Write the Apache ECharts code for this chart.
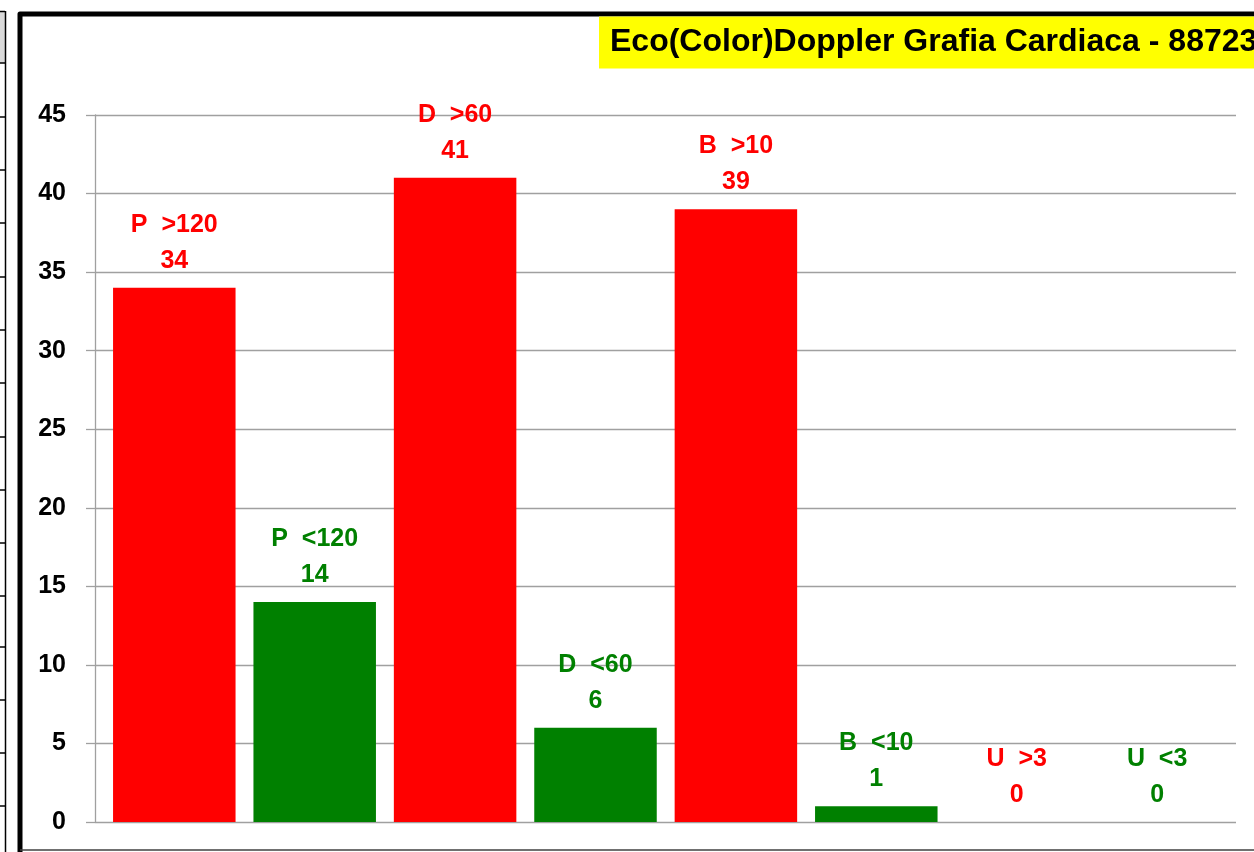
<!DOCTYPE html>
<html>
<head>
<meta charset="utf-8">
<style>
  html, body { margin: 0; padding: 0; background: #ffffff; }
  #chart { width: 1254px; height: 852px; }
</style>
<script src="https://cdn.jsdelivr.net/npm/echarts@6/dist/echarts.min.js"></script>
</head>
<body>
<div id="chart"></div>
<script>
// ---- data ----
const categories = ['P  >120', 'P  <120', 'D  >60', 'D  <60', 'B  >10', 'B  <10', 'U  >3', 'U  <3'];
const values = [34, 14, 41, 6, 39, 1, 0, 0];
const yTicks = [0, 5, 10, 15, 20, 25, 30, 35, 40, 45];
const titleText = 'Eco(Color)Doppler Grafia Cardiaca - 88723';

// ---- style ----
const RED = '#ff0000';
const GREEN = '#008000';
const FONT = '"Liberation Sans", Arial, sans-serif';
const colorFor = (name) => (name.indexOf('>') >= 0 ? RED : GREEN);

const yMin = yTicks[0];
const yMax = yTicks[yTicks.length - 1];
const yStep = yTicks[1] - yTicks[0];

const chart = echarts.init(document.getElementById('chart'), null, { renderer: 'canvas' });

// spreadsheet row borders at the far left edge (decoration)
const rowLines = [];
[63, 117, 170, 223, 277, 330, 383, 437, 490, 543, 596, 647, 700, 753, 806].forEach(function (y) {
  rowLines.push({
    type: 'line', silent: true,
    shape: { x1: 0, y1: y, x2: 5, y2: y },
    style: { stroke: '#000', lineWidth: 1.5 }
  });
});

const option = {
  backgroundColor: '#ffffff',
  animation: false,
  title: {
    text: titleText,
    left: 599,
    top: 17,
    backgroundColor: '#ffff00',
    padding: [10, 40, 10, 11],
    textStyle: {
      fontFamily: FONT,
      fontWeight: 'bold',
      fontSize: 32,
      lineHeight: 31,
      color: '#000000'
    }
  },
  grid: [
    { left: 95, right: 18, top: 115, bottom: 30, containLabel: false },
    { left: 104.1, right: 26.7, top: 115, bottom: 30, containLabel: false }
  ],
  xAxis: [
    {
      type: 'category', gridIndex: 0, data: categories,
      show: true,
      axisLine: { show: false }, axisTick: { show: false }, axisLabel: { show: false }
    },
    {
      type: 'category', gridIndex: 1, data: categories,
      axisLine: { show: false }, axisTick: { show: false }, axisLabel: { show: false }
    }
  ],
  yAxis: [
    {
      type: 'value', gridIndex: 0, min: yMin, max: yMax, interval: yStep,
      axisLine: { show: true, lineStyle: { color: '#a0a0a0', width: 1.3 } },
      axisTick: { show: true, length: 9, lineStyle: { color: '#a0a0a0', width: 1.3 } },
      splitLine: { show: true, lineStyle: { color: '#a0a0a0', width: 1.3 } },
      axisLabel: {
        show: true, margin: 29,
        fontFamily: FONT, fontWeight: 'bold', fontSize: 25, color: '#000000'
      }
    },
    {
      type: 'value', gridIndex: 1, min: yMin, max: yMax, interval: yStep,
      show: false, splitLine: { show: false }
    }
  ],
  series: [
    {
      type: 'bar',
      xAxisIndex: 1,
      yAxisIndex: 1,
      barWidth: 122.5,
      data: values.map(function (v, i) {
        return {
          value: v,
          itemStyle: { color: colorFor(categories[i]) },
          label: { color: colorFor(categories[i]) }
        };
      }),
      label: {
        show: true,
        position: 'top',
        distance: 9,
        formatter: '{b}\n{c}',
        fontFamily: FONT,
        fontWeight: 'bold',
        fontSize: 25,
        lineHeight: 36,
        align: 'center'
      }
    }
  ],
  graphic: [
    // left sheet column remnant
    { type: 'rect', silent: true, shape: { x: 0, y: 11, width: 5, height: 52 }, style: { fill: '#d9d9d9' } },
    { type: 'line', silent: true, shape: { x1: 0, y1: 11.5, x2: 5, y2: 11.5 }, style: { stroke: '#000', lineWidth: 1.5 } },
    { type: 'line', silent: true, shape: { x1: 5.5, y1: 11, x2: 5.5, y2: 852 }, style: { stroke: '#000', lineWidth: 1.5 } }
  ].concat(rowLines).concat([
    // chart frame: thick left & top, thin bottom
    {
      type: 'polyline', silent: true,
      shape: { points: [[20, 860], [20, 14], [1270, 14]] },
      style: { stroke: '#000', lineWidth: 5, fill: null, lineJoin: 'round' }
    },
    { type: 'line', silent: true, shape: { x1: 20, y1: 850, x2: 1254, y2: 850 }, style: { stroke: '#404040', lineWidth: 1.5 } }
  ])
};

chart.setOption(option);
</script>
</body>
</html>
